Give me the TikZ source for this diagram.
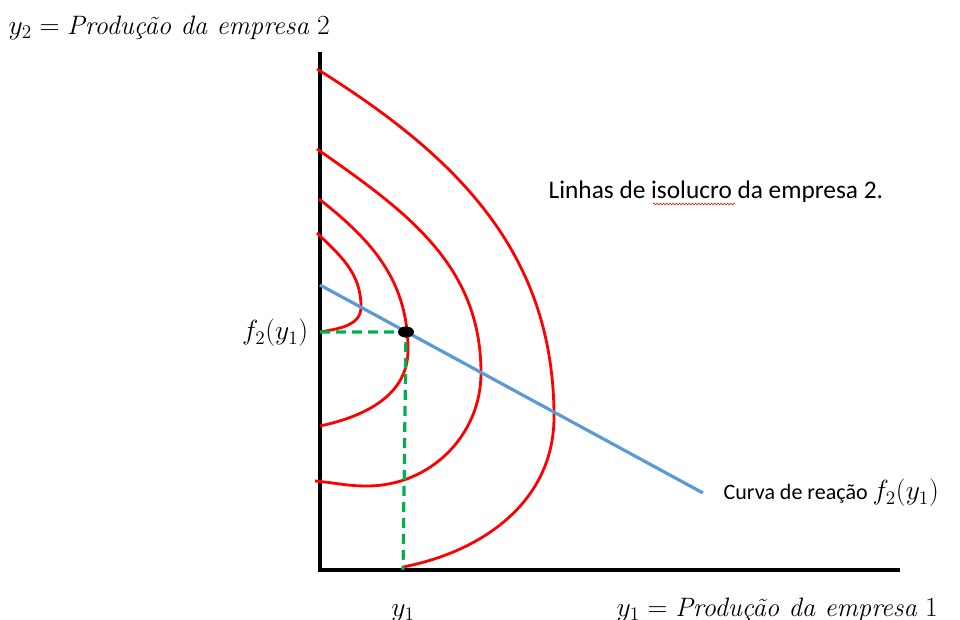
\documentclass[tikz,border=0pt]{standalone}
\usepackage{fontspec}
\usepackage{amsmath}
\usepackage{tikz}
\usetikzlibrary{decorations.pathmorphing}
\newfontfamily\calibri{Carlito}
\definecolor{isored}{RGB}{255,0,0}
\definecolor{reacblue}{RGB}{91,155,213}
\definecolor{guidegreen}{RGB}{0,176,80}

\begin{document}
\begin{tikzpicture}[x=0.75pt, y=0.75pt, font=\fontsize{20}{24}\selectfont,
  axis/.style={line width=2.4pt, black},
  iso/.style={line width=2.1pt, isored},
  guide/.style={line width=2.4pt, guidegreen, dash pattern=on 7.5pt off 4.5pt},
  note/.style={font=\calibri\fontsize{19}{22}\selectfont, anchor=west}]
  \useasboundingbox (0,0) rectangle (960,619);

  \coordinate (O) at (320,49);
  \coordinate (ytop) at (320,567);
  \coordinate (xend) at (900,49);
  \coordinate (reac0) at (320,334);
  \coordinate (reac1) at (703,126);
  \coordinate (eq) at (406,287);
  \coordinate (fy) at (320,287);
  \coordinate (yone) at (403,49);

  \draw[axis] (ytop) -- (O) -- (xend);

  % isolucro curves of firm 2
  \draw[iso] (317,550) to[out=-32,in=90] (554,202) to[out=-90,in=11] (403,52);
  \draw[iso] (317,470) to[out=-35,in=90] (481,246) to[out=-90,in=0] (367,133) to[out=180,in=-5] (315,138);
  \draw[iso] (319,420) to[out=-38,in=90] (408,269) to[out=-90,in=12] (320,193);
  \draw[iso] (317,386) to[out=-44,in=90] (361,312) to[out=-90,in=10] (fy);

  % reaction curve and equilibrium
  \draw[line width=2.4pt, reacblue] (reac0) -- (reac1);
  \draw[guide] (fy) -- (eq) -- (yone);
  \fill (eq) ellipse (6pt and 4.2pt);

  % labels
  \node[anchor=west] (ylab) at (4,591) {$y_2 = \textit{Produção da empresa}\ 2$};
  \node[anchor=east] (flab) at (313,286) {$f_2(y_1)$};
  \node[anchor=base] (yonelab) at (yone |- 0,3) {$y_1$};
  \node[anchor=base west] (xlab) at (612,3) {$y_1 = \textit{Produção da empresa}\ 1$};
  \node[note] (isolab) at (544,427) {Linhas de isolucro da empresa 2.};
  \node[note, font=\calibri\fontsize{16.5}{20}\selectfont] (reaclab) at (719,126)
    {Curva de reação {\fontsize{21}{24}\selectfont$f_2(y_1)$}};
  \draw[isored, line width=0.4pt, decorate, decoration={snake, amplitude=0.7pt, segment length=2.4pt}] (653,415) -- (735,415);
\end{tikzpicture}
\end{document}
